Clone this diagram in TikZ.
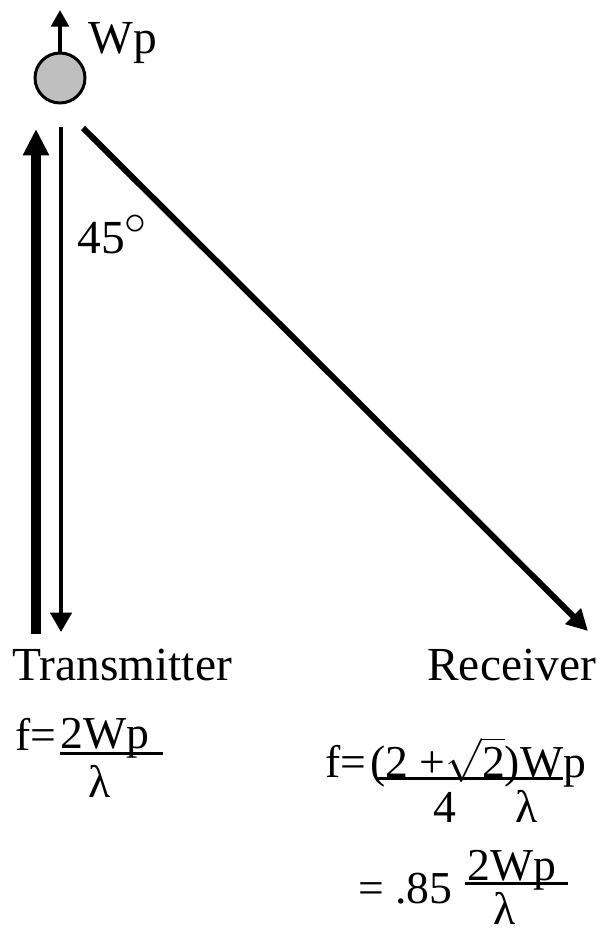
\documentclass[tikz,border=0pt]{standalone}
\usepackage{fontspec}
\setmainfont{LiberationSerif}[Extension=.ttf,UprightFont=*-Regular,BoldFont=*-Bold]
\usetikzlibrary{arrows.meta}

\begin{document}
\begin{tikzpicture}[x=0.02cm,y=-0.02cm,font=\fontsize{27}{30}\selectfont,
  lbl/.style={inner sep=0pt,anchor=base west},
  eq/.style={inner sep=0pt,anchor=base west,font=\fontsize{26}{30}\selectfont},
  ball/.style={circle,draw,line width=1.7pt,fill=black!25,minimum size=1cm,inner sep=0pt},
  tiny/.style={line width=2.4pt,-{Triangle[length=9.5pt,width=10pt]}},
  dnar/.style={line width=2.3pt,-{Triangle[length=11pt,width=12pt]}},
  upar/.style={line width=5.7pt,-{Triangle[length=15pt,width=14pt]}},
  ray/.style={line width=3.4pt,-{Triangle[length=12pt,width=12pt]}},
  bar/.style={line width=1.7pt}]
  \useasboundingbox (0,0) rectangle (596,933);
  % particle
  \node[ball] (p) at (60,78) {};
  \coordinate (ptop) at (60,10);
  \draw[tiny] (p.north) -- (ptop);
  \node[lbl] (wp) at (88,53) {Wp};
  % beams
  \coordinate (up0) at (36,634); \coordinate (up1) at (36,129);
  \coordinate (dn0) at (61,127); \coordinate (dn1) at (61,632);
  \coordinate (rx0) at (83,128); \coordinate (rx1) at (588,631);
  \draw[upar] (up0) -- (up1);
  \draw[dnar] (dn0) -- (dn1);
  \draw[ray] (rx0) -- (rx1);
  \node[lbl] (ang) at (77,253) {45\raisebox{0.38em}{$\circ$}};
  \node[lbl] (tx) at (12,680) {Transmitter};
  \node[lbl] (rx) at (427,680) {Receiver};
  % transmitter formula
  \node[eq] (fl) at (15,750) {f=};
  \node[eq] (nl) at (60,748) {2Wp};
  \draw[bar] (60,753) -- (163,753);
  \node[eq] (ll) at (88,797) {λ};
  % receiver formula
  \node[eq] (fr) at (325,777) {f=};
  \node[eq] (nr) at (370,777) {(2 +$\sqrt{\mbox{2}}$)Wp};
  \draw[bar] (377,778) -- (563,778);
  \node[eq] (r4) at (433,822) {4};
  \node[eq] (rl) at (515,822) {λ};
  \node[eq] (req) at (358,903) {=};
  \node[eq] (r85) at (395,903) {.85};
  \node[eq] (n2) at (467,880) {2Wp};
  \draw[bar] (465,883) -- (568,883);
  \node[eq] (l2) at (493,924) {λ};
\end{tikzpicture}
\end{document}
